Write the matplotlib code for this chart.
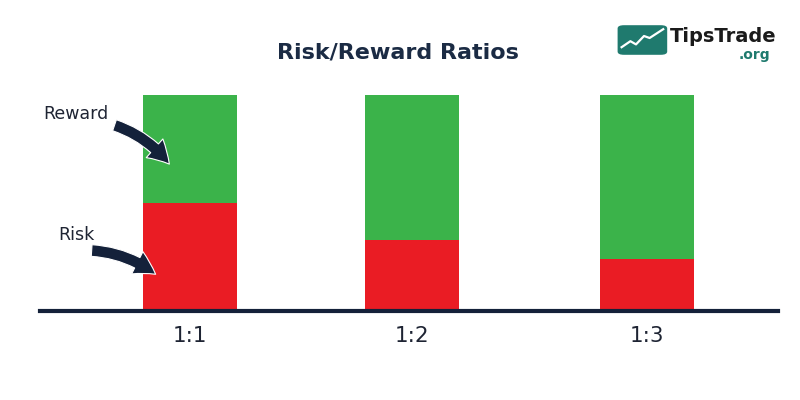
import matplotlib.pyplot as plt
from matplotlib.patches import FancyBboxPatch

# ratio labels and stacked shares (risk at bottom, reward on top)
ratios = ["1:1", "1:2", "1:3"]
risk = [0.50, 0.33, 0.24]
reward = [0.50, 0.67, 0.76]

navy = "#14213a"
green = "#3bb34a"
red = "#ea1c24"
teal = "#1f7a6e"

fig = plt.figure(figsize=(8, 4), dpi=100)
ax = fig.add_axes([0.05, 0.2225, 0.9225, 0.54])

# bar slots as in the picture (middle one sits a bit left)
xpos = [0, 0.972, 2]
ax.bar(xpos, risk, width=0.41, color=red)
ax.bar(xpos, reward, width=0.41, bottom=risk, color=green)

ax.set_xlim(-0.656, 2.573)
ax.set_ylim(0, 1)
ax.axhline(0, color=navy, lw=3, clip_on=False)
for s in ax.spines.values():
    s.set_visible(False)
ax.set_yticks([])
ax.set_xticks(xpos)
ax.set_xticklabels(ratios, fontsize=15.5, color="#1e2433")
ax.tick_params(axis="x", length=0, pad=11)

# title
fig.text(0.498, 0.87, "Risk/Reward Ratios", ha="center", va="center",
         fontsize=16, fontweight="bold", color="#1b2b44")

# callouts
ax.text(-0.64, 0.91, "Reward", fontsize=12.5, color="#1e2433", va="center")
ax.text(-0.575, 0.35, "Risk", fontsize=12.5, color="#1e2433", va="center")
arrow = dict(arrowstyle="simple,head_width=1.5,head_length=1.3,tail_width=0.7",
             mutation_scale=12, color=navy, ec="white", lw=0.8,
             connectionstyle="arc3,rad=-0.15", shrinkA=0, shrinkB=0)
ax.annotate("", xy=(-0.09, 0.68), xytext=(-0.33, 0.86), arrowprops=arrow)
ax.annotate("", xy=(-0.15, 0.17), xytext=(-0.43, 0.28), arrowprops=arrow)

# logo
logo = FancyBboxPatch((0.772, 0.863), 0.062, 0.074, boxstyle="round,pad=0,rounding_size=0.008",
                      transform=fig.transFigure, fc=teal, ec="none")
fig.patches.append(logo)
fig.lines.append(plt.Line2D([0.777, 0.788, 0.795, 0.805, 0.812, 0.829],
                            [0.882, 0.897, 0.889, 0.91, 0.905, 0.927],
                            transform=fig.transFigure, color="white", lw=1.6))
fig.text(0.837, 0.91, "TipsTrade", fontsize=14, fontweight="bold", color="#1b1b1b", va="center")
fig.text(0.963, 0.863, ".org", fontsize=10, fontweight="bold", color=teal, va="center", ha="right")

fig.savefig("out.png", dpi=100, facecolor="white")
